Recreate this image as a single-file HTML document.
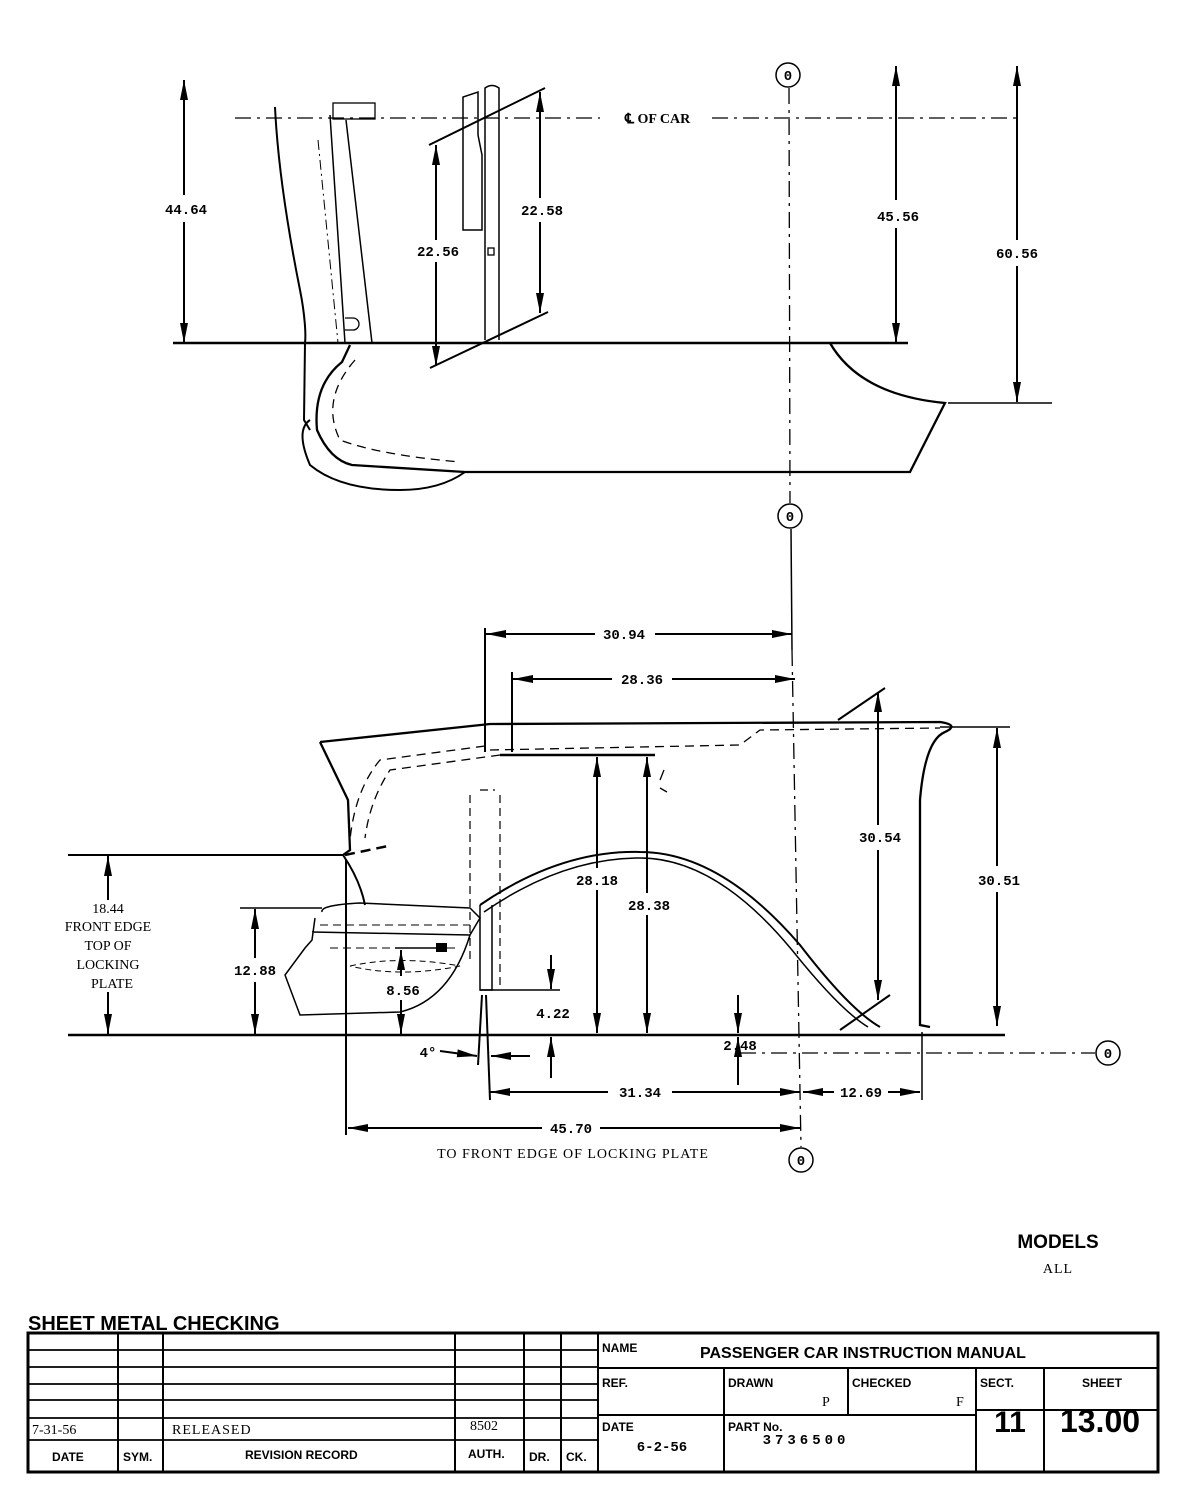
<!DOCTYPE html>
<html><head><meta charset="utf-8"><style>
html,body{margin:0;padding:0;background:#fff;}
svg{display:block}
.d{font-family:"Liberation Mono",monospace;font-size:14px;font-weight:bold;fill:#000;text-anchor:middle}
.s{font-family:"Liberation Serif",serif;font-size:14px;fill:#000}
.b{font-family:"Liberation Sans",sans-serif;font-weight:bold;fill:#000}
</style></head><body>
<svg width="1187" height="1499" viewBox="0 0 1187 1499" xmlns="http://www.w3.org/2000/svg">
<defs>
<marker id="a" viewBox="0 0 20 8" refX="20" refY="4" markerWidth="20" markerHeight="8" markerUnits="userSpaceOnUse" orient="auto-start-reverse"><path d="M0,0 L20,4 L0,8 z" fill="#000"/></marker>
</defs>
<g fill="none" stroke="#000" stroke-width="2">
<!-- TOP VIEW -->
<line x1="235" y1="118" x2="600" y2="118" stroke-width="1.3" stroke-dasharray="16,6,3,6"/>
<line x1="712" y1="118" x2="1020" y2="118" stroke-width="1.3" stroke-dasharray="16,6,3,6"/>
<line x1="173" y1="343" x2="908" y2="343" stroke-width="2.5"/>
<line x1="184" y1="80" x2="184" y2="195" marker-start="url(#a)"/>
<line x1="184" y1="222" x2="184" y2="343" marker-end="url(#a)"/>
<path d="M275,107 C278,170 290,240 300,290 C305,315 306,335 305,343 L304,420 L310,430"/>
<path d="M330,115 L345,343 M346,120 L372,343" stroke-width="1.5"/>
<rect x="333" y="103" width="42" height="16" stroke-width="1.3"/>
<path d="M318,140 L338,343" stroke-width="1" stroke-dasharray="10,4,2,4"/>
<path d="M345,318 h8 a6,6 0 0 1 0,12 h-8" stroke-width="1.3"/>
<line x1="429" y1="145" x2="545" y2="88"/>
<line x1="430" y1="368" x2="548" y2="312"/>
<line x1="436" y1="145" x2="436" y2="240" marker-start="url(#a)"/>
<line x1="436" y1="262" x2="436" y2="366" marker-end="url(#a)"/>
<line x1="540" y1="92" x2="540" y2="198" marker-start="url(#a)"/>
<line x1="540" y1="222" x2="540" y2="313" marker-end="url(#a)"/>
<path d="M463,97 L463,230 L482,230 L482,155 L478,135 L478,92 Z" stroke-width="1.5"/>
<path d="M485,340 L485,88 Q492,83 499,88 L499,340" stroke-width="1.5"/>
<rect x="488" y="248" width="6" height="7" stroke-width="1.3"/>
<path d="M350,345 L342,362 Q313,385 317,430 Q330,460 352,465 L465,472 L910,472 L945,403 Q860,395 830,343" stroke-width="2.3"/>
<path d="M310,420 Q295,430 310,465 Q340,490 400,490 Q440,490 465,472" stroke-width="2"/>
<path d="M355,360 Q320,400 340,440 Q380,455 460,462" stroke-width="1.3" stroke-dasharray="9,6"/>
<line x1="948" y1="403" x2="1052" y2="403" stroke-width="1.5"/>
<line x1="896" y1="66" x2="896" y2="200" marker-start="url(#a)"/>
<line x1="896" y1="228" x2="896" y2="343" marker-end="url(#a)"/>
<line x1="1017" y1="66" x2="1017" y2="240" marker-start="url(#a)"/>
<line x1="1017" y1="266" x2="1017" y2="402" marker-end="url(#a)"/>
<circle cx="788" cy="75" r="12" stroke-width="1.5"/>
<circle cx="790" cy="516" r="12" stroke-width="1.5"/>
<line x1="789" y1="88" x2="790" y2="503" stroke-width="1.3" stroke-dasharray="16,6,3,6"/>
<line x1="791" y1="529" x2="792" y2="650" stroke-width="1.5"/>
<line x1="792" y1="650" x2="801" y2="1147" stroke-width="1.3" stroke-dasharray="16,6,3,6"/>
<circle cx="801" cy="1160" r="12" stroke-width="1.5"/>

<!-- SIDE VIEW -->
<line x1="68" y1="1035" x2="1005" y2="1035" stroke-width="2.5"/>
<line x1="68" y1="855" x2="343" y2="855" stroke-width="2"/>
<line x1="108" y1="856" x2="108" y2="900" marker-start="url(#a)"/>
<line x1="108" y1="992" x2="108" y2="1034" marker-end="url(#a)"/>
<line x1="240" y1="908" x2="322" y2="908" stroke-width="1.5"/>
<line x1="255" y1="909" x2="255" y2="958" marker-start="url(#a)"/>
<line x1="255" y1="982" x2="255" y2="1034" marker-end="url(#a)"/>
<path d="M320,742 L490,724 L940,722 Q960,725 945,732 Q925,740 920,800 L920,1025 L930,1027" stroke-width="2.3"/>
<path d="M320,742 L348,800 L350,850 L343,855" stroke-width="2.3"/>
<path d="M343,855 Q360,880 365,905" stroke-width="2"/>
<path d="M490,750 L740,745 L760,730 L940,728" stroke-width="1.3" stroke-dasharray="9,6"/>
<path d="M485,746 L380,760 Q355,790 350,840" stroke-width="1.3" stroke-dasharray="9,6"/>
<path d="M500,755 L390,770 Q370,800 365,838" stroke-width="1.3" stroke-dasharray="9,6"/>
<path d="M345,855 L388,846" stroke-width="2.5" stroke-dasharray="10,6"/>
<path d="M470,795 L470,960 M500,795 L500,990 M480,790 L495,790" stroke-width="1.2" stroke-dasharray="8,5"/>
<path d="M480,905 Q560,850 640,852 Q720,852 800,945 Q850,1010 880,1027" stroke-width="2"/>
<path d="M484,912 Q562,858 640,858 Q716,858 792,950 Q840,1010 868,1027" stroke-width="1.5"/>
<path d="M480,905 L480,990 L492,990 L492,905" stroke-width="1.5"/>
<path d="M322,912 Q320,905 360,903 L470,908 L480,918 L470,935 L312,932 M315,918 L312,940 L305,948 L285,975 L300,1015 L400,1012 Q450,1000 470,935" stroke-width="1.5"/>
<path d="M320,925 L470,925 M330,948 L460,948" stroke-width="1" stroke-dasharray="8,5"/>
<path d="M350,966 Q400,955 460,966 Q400,978 350,966" stroke-width="1" stroke-dasharray="6,4"/>
<line x1="395" y1="948" x2="445" y2="948" stroke-width="1.5"/>
<rect x="437" y="944" width="9" height="7" fill="#000"/>
<line x1="401" y1="950" x2="401" y2="976" marker-start="url(#a)"/>
<line x1="401" y1="1000" x2="401" y2="1034" marker-end="url(#a)"/>
<line x1="485" y1="628" x2="485" y2="752" stroke-width="2"/>
<line x1="512" y1="672" x2="512" y2="752" stroke-width="2"/>
<line x1="486" y1="634" x2="595" y2="634" marker-start="url(#a)"/>
<line x1="655" y1="634" x2="792" y2="634" marker-end="url(#a)"/>
<line x1="513" y1="679" x2="612" y2="679" marker-start="url(#a)"/>
<line x1="672" y1="679" x2="795" y2="679" marker-end="url(#a)"/>
<line x1="500" y1="755" x2="655" y2="755" stroke-width="2.5"/>
<line x1="597" y1="757" x2="597" y2="868" marker-start="url(#a)"/>
<line x1="597" y1="890" x2="597" y2="1033" marker-end="url(#a)"/>
<line x1="647" y1="757" x2="647" y2="893" marker-start="url(#a)"/>
<line x1="647" y1="915" x2="647" y2="1033" marker-end="url(#a)"/>
<path d="M660,780 L664,770 M660,788 L667,792" stroke-width="1.3"/>
<line x1="838" y1="720" x2="885" y2="688" stroke-width="2"/>
<line x1="840" y1="1030" x2="890" y2="995" stroke-width="2"/>
<line x1="878" y1="692" x2="878" y2="825" marker-start="url(#a)"/>
<line x1="878" y1="850" x2="878" y2="1000" marker-end="url(#a)"/>
<line x1="940" y1="727" x2="1010" y2="727" stroke-width="1.5"/>
<line x1="997" y1="728" x2="997" y2="866" marker-start="url(#a)"/>
<line x1="997" y1="892" x2="997" y2="1026" marker-end="url(#a)"/>
<line x1="480" y1="990" x2="560" y2="990" stroke-width="1.5"/>
<line x1="551" y1="955" x2="551" y2="989" marker-end="url(#a)"/>
<line x1="551" y1="1078" x2="551" y2="1037" marker-end="url(#a)"/>
<line x1="738" y1="995" x2="738" y2="1033" marker-end="url(#a)"/>
<line x1="738" y1="1085" x2="738" y2="1037" marker-end="url(#a)"/>
<line x1="740" y1="1053" x2="1095" y2="1053" stroke-width="1.3" stroke-dasharray="16,6,3,6"/>
<circle cx="1108" cy="1053" r="12" stroke-width="1.5"/>
<line x1="482" y1="995" x2="478" y2="1065" stroke-width="2"/>
<line x1="486" y1="995" x2="490" y2="1100" stroke-width="2"/>
<line x1="440" y1="1051" x2="477" y2="1056" marker-end="url(#a)"/>
<line x1="530" y1="1056" x2="491" y2="1056" marker-end="url(#a)"/>
<line x1="922" y1="1032" x2="922" y2="1100" stroke-width="1.5"/>
<line x1="346" y1="860" x2="346" y2="1135" stroke-width="2"/>
<line x1="490" y1="1092" x2="608" y2="1092" marker-start="url(#a)"/>
<line x1="672" y1="1092" x2="800" y2="1092" marker-end="url(#a)"/>
<line x1="803" y1="1092" x2="834" y2="1092" marker-start="url(#a)"/>
<line x1="888" y1="1092" x2="920" y2="1092" marker-end="url(#a)"/>
<line x1="348" y1="1128" x2="542" y2="1128" marker-start="url(#a)"/>
<line x1="600" y1="1128" x2="800" y2="1128" marker-end="url(#a)"/>

<!-- TITLE BLOCK -->
<rect x="28" y="1333" width="1130" height="139" stroke-width="3"/>
<path d="M118,1333 V1472 M163,1333 V1472 M455,1333 V1472 M524,1333 V1472 M561,1333 V1472 M598,1333 V1472" stroke-width="2"/>
<path d="M28,1350 H598 M28,1367 H598 M28,1384 H598 M28,1400 H598 M28,1418 H598 M28,1440 H598" stroke-width="1.8"/>
<path d="M598,1368 H1158 M598,1415 H976 M976,1410 H1158 M724,1368 V1472 M848,1368 V1415 M976,1368 V1472 M1044,1368 V1472" stroke-width="2"/>
</g>
<g>
<text x="625" y="123" class="s" font-weight="bold">℄ OF CAR</text>
<text x="186" y="214" class="d">44.64</text>
<text x="438" y="256" class="d">22.56</text>
<text x="542" y="215" class="d">22.58</text>
<text x="898" y="221" class="d">45.56</text>
<text x="1017" y="258" class="d">60.56</text>
<text x="788" y="80" class="d" font-size="13">0</text>
<text x="790" y="521" class="d" font-size="13">0</text>
<text x="801" y="1165" class="d" font-size="13">0</text>
<text x="1108" y="1058" class="d" font-size="13">0</text>
<text x="624" y="639" class="d">30.94</text>
<text x="642" y="684" class="d">28.36</text>
<text x="597" y="885" class="d">28.18</text>
<text x="649" y="910" class="d">28.38</text>
<text x="880" y="842" class="d">30.54</text>
<text x="999" y="885" class="d">30.51</text>
<text x="255" y="975" class="d">12.88</text>
<text x="403" y="995" class="d">8.56</text>
<text x="553" y="1018" class="d">4.22</text>
<text x="740" y="1050" class="d">2.48</text>
<text x="640" y="1097" class="d">31.34</text>
<text x="861" y="1097" class="d">12.69</text>
<text x="571" y="1133" class="d">45.70</text>
<text x="428" y="1057" class="d">4°</text>
<g class="s" text-anchor="middle" font-size="14"><text x="108" y="913">18.44</text><text x="108" y="931">FRONT EDGE</text><text x="108" y="950">TOP OF</text><text x="108" y="969">LOCKING</text><text x="112" y="988">PLATE</text></g>
<text x="573" y="1158" class="s" text-anchor="middle" letter-spacing="1">TO FRONT EDGE OF LOCKING PLATE</text>
<text x="1058" y="1248" class="b" font-size="19" text-anchor="middle">MODELS</text>
<text x="1058" y="1273" class="s" font-size="14" text-anchor="middle" letter-spacing="1">ALL</text>
<text x="28" y="1330" class="b" font-size="20">SHEET METAL CHECKING</text>
<text x="32" y="1434" class="s" font-size="15">7-31-56</text>
<text x="172" y="1434" class="s" font-size="15" letter-spacing="1">RELEASED</text>
<text x="470" y="1430" class="s" font-size="14">8502</text>
<g class="b" font-size="12"><text x="52" y="1461">DATE</text><text x="123" y="1461">SYM.</text><text x="245" y="1459">REVISION RECORD</text><text x="468" y="1458">AUTH.</text><text x="529" y="1461">DR.</text><text x="566" y="1461">CK.</text>
<text x="602" y="1352">NAME</text><text x="602" y="1387">REF.</text><text x="728" y="1387">DRAWN</text><text x="852" y="1387">CHECKED</text><text x="980" y="1387">SECT.</text><text x="1082" y="1387">SHEET</text><text x="602" y="1431">DATE</text><text x="728" y="1431">PART No.</text></g>
<text x="700" y="1358" class="b" font-size="16">PASSENGER CAR INSTRUCTION MANUAL</text>
<text x="822" y="1406" class="s" font-size="15">P</text>
<text x="956" y="1406" class="s" font-size="15">F</text>
<text x="662" y="1451" class="d" font-size="13" text-anchor="start">6-2-56</text>
<text x="806" y="1444" class="d" font-size="15" text-anchor="start" letter-spacing="4">3736500</text>
<text x="1010" y="1432" class="b" font-size="30" text-anchor="middle">11</text>
<text x="1100" y="1432" class="b" font-size="32" text-anchor="middle">13.00</text>
</g>
</svg>
</body></html>
